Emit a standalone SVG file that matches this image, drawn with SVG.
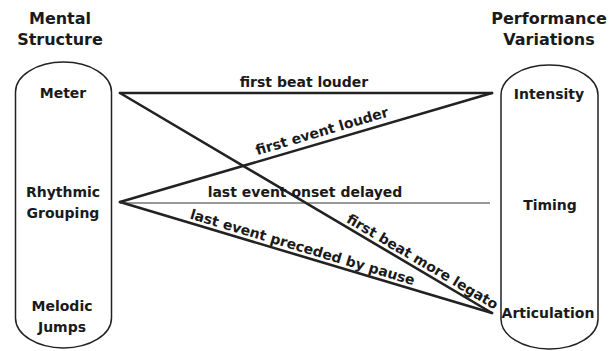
<svg xmlns="http://www.w3.org/2000/svg" width="616" height="351" viewBox="0 0 616 351">
<style>
text{font-family:"DejaVu Sans","Liberation Sans",sans-serif;font-weight:bold;fill:#1a1a1a;text-anchor:middle}
.title{font-size:16px}
.node{font-size:14px}
.lbl{font-size:14px}
.pill{fill:none;stroke:#222;stroke-width:1.5}
.thick{stroke:#222;stroke-width:2.6;fill:none;stroke-linecap:round}
.thin{stroke:#333;stroke-width:1.1;fill:none}
</style>
<rect width="616" height="351" fill="#fff"/>
<g id="mental-structure">
<text class="title" x="60" y="24">Mental</text>
<text class="title" x="60" y="45">Structure</text>
<rect class="pill" x="15.5" y="62" width="96" height="286" rx="48" ry="30"/>
</g>
<g id="performance-variations">
<text class="title" x="549" y="24">Performance</text>
<text class="title" x="549" y="45">Variations</text>
<rect class="pill" x="501" y="65" width="97" height="284" rx="48" ry="30"/>
</g>
<g id="meter"><text class="node" x="63" y="98">Meter</text></g>
<g id="rhythmic-grouping"><text class="node" x="63" y="197">Rhythmic</text><text class="node" x="63" y="218">Grouping</text></g>
<g id="melodic-jumps"><text class="node" x="62" y="311">Melodic</text><text class="node" x="62" y="332">Jumps</text></g>
<g id="intensity"><text class="node" x="549" y="99">Intensity</text></g>
<g id="timing"><text class="node" x="550" y="210">Timing</text></g>
<g id="articulation"><text class="node" x="548" y="318">Articulation</text></g>
<g id="connectors">
<line class="thick" x1="120" y1="93" x2="492" y2="93"/>
<line class="thick" x1="120" y1="202" x2="492" y2="93"/>
<line class="thick" x1="120" y1="93" x2="492" y2="313"/>
<line class="thick" x1="120" y1="202" x2="492" y2="313"/>
<line class="thin" x1="120" y1="203" x2="490" y2="203"/>
<text class="lbl" x="304" y="87">first beat louder</text>
<text class="lbl" x="305" y="197">last event onset delayed</text>
<g transform="translate(325 141.5) rotate(-16.5)"><text class="lbl" x="0" y="-6">first event louder</text></g>
<g transform="translate(418 269.2) rotate(30.6)"><text class="lbl" x="0" y="-4">first beat more legato</text></g>
<g transform="translate(300 255.7) rotate(16.6)"><text class="lbl" x="0" y="-4">last event preceded by pause</text></g>
</g>
</svg>
